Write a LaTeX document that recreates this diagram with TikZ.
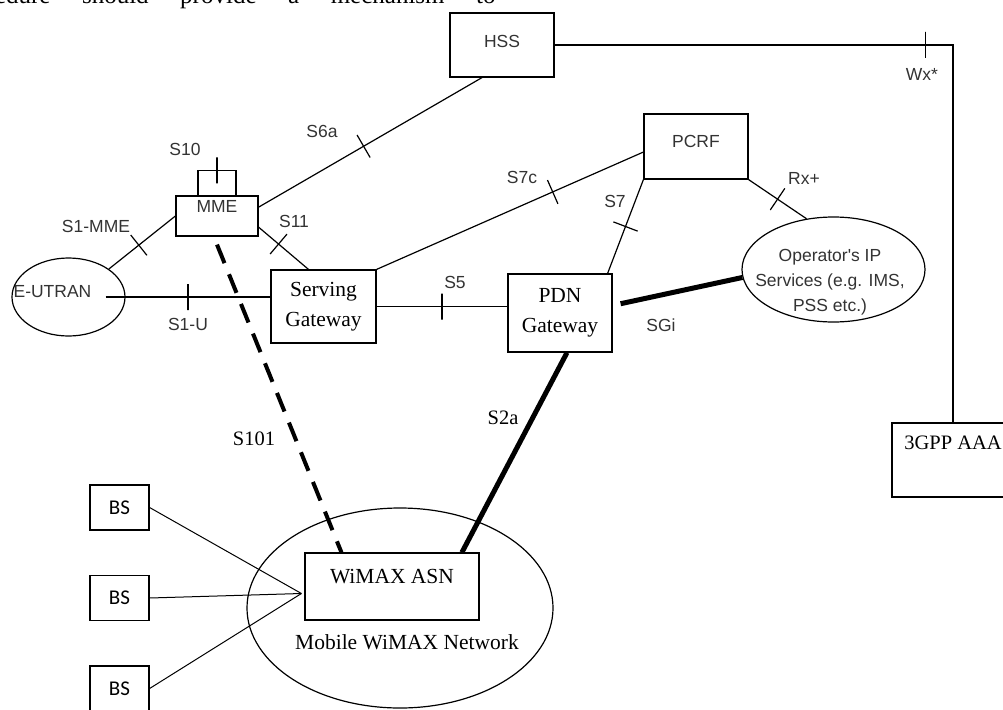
\documentclass[tikz,border=0pt]{standalone}
\usepackage{fontspec}
\setmainfont{Liberation Serif}
\newfontfamily\arialfont{Liberation Sans}
\newfontfamily\califont{Carlito}
\usetikzlibrary{shapes.geometric}

\tikzset{
    box/.style={draw, rectangle, inner sep=0pt},
    blob/.style={draw, ellipse, inner sep=0pt},
    lab/.style={inner sep=0pt, text=black!80, font=\arialfont\fontsize{17.5}{25}\selectfont},
    slab/.style={inner sep=0pt, align=center, font=\fontsize{21.5}{30}\selectfont},
    ifmark/.style={draw, sloped, inner sep=0pt, minimum width=0pt, minimum height=26pt},
    fat/.style={line width=5pt},
    dashline/.style={line width=4pt, dash pattern=on 20pt off 12pt}
}

\begin{document}
\begin{tikzpicture}[x=1pt, y=-1pt, line width=1.2pt]
    \useasboundingbox (0,0) rectangle (1003,709);

    % Cut-off line of text above the figure
    \node[anchor=base west, text width=545pt, inner sep=0pt, font=\fontsize{25}{30}\selectfont] (toptxt) at (-50,4)
        {\noindent procedure\hfill should\hfill provide\hfill a\hfill mechanism\hfill to};

    % Boxes of the core network
    \node[box, lab, minimum width=104pt, minimum height=64pt, text depth=8pt] (hss) at (502,45) {HSS};
    \node[box, lab, minimum width=104pt, minimum height=65pt, text depth=11pt] (pcrf) at (696,146.5) {PCRF};
    \node[box, lab, minimum width=82pt, minimum height=40pt, text depth=20pt] (mme) at (217,216) {MME};
    \node[box, slab, minimum width=105pt, minimum height=73pt] (sgw) at (323.5,306.5) {Serving\\Gateway};
    \node[box, slab, minimum width=104pt, minimum height=78pt] (pgw) at (560,313) {PDN\\Gateway};
    \node[box, slab, font=\fontsize{20.5}{30}\selectfont, minimum width=122pt, minimum height=74pt, text depth=34pt] (aaa) at (953,460) {3GPP AAA};

    % E-UTRAN and operator services
    \node[blob, minimum width=113pt, minimum height=78pt] (eutran) at (68.5,297) {};
    \node[lab] (eutrantxt) at (52.5,291.5) {E-UTRAN};
    \node[blob, minimum width=183pt, minimum height=105pt] (opsrv) at (833.5,269.5) {};
    \node[lab, align=center] (opsrvtxt) at (830,282) {Operator's IP\\Services (e.g. IMS,\\PSS etc.)};

    % WiMAX side
    \node[blob, minimum width=306pt, minimum height=200pt] (mwn) at (400,608) {};
    \node[slab] (mwntxt) at (407,642) {Mobile WiMAX Network};
    \node[box, slab, minimum width=174pt, minimum height=67pt, text depth=21pt] (asn) at (392,586.5) {WiMAX ASN};
    \node[box, font=\califont\fontsize{21}{25}\selectfont, minimum width=59pt, minimum height=45pt] (bs1) at (119.5,507.5) {BS};
    \node[box, font=\califont\fontsize{21}{25}\selectfont, minimum width=59pt, minimum height=45pt] (bs2) at (119.5,598) {BS};
    \node[box, font=\califont\fontsize{21}{25}\selectfont, minimum width=59pt, minimum height=45pt] (bs3) at (119.5,688.5) {BS};
    \coordinate (hub) at ([xshift=-3pt,yshift=-7pt]asn.west);

    % Reference points
    \draw ([xshift=-19pt]mme.north) -- ++(0,-25) -- node[ifmark]{} ++(38,0) -- ([xshift=19pt]mme.north);
    \draw (eutran.north east) -- node[ifmark, pos=.45]{} (mme.west);
    \draw ([xshift=-20pt]eutran.east) -- node[ifmark]{} (eutran.east -| sgw.west);
    \draw (mme.-15) -- node[ifmark, pos=.4]{} (sgw.112);
    \draw (mme.12) -- node[ifmark, pos=.47]{} ([xshift=-20pt]hss.south);
    \draw (sgw.north east) -- node[ifmark, pos=.66]{} (pcrf.186);
    \draw (sgw.east) -- node[ifmark]{} (sgw.east -| pgw.west);
    \draw ([xshift=-5pt]pgw.north east) -- node[ifmark]{} (pcrf.south west);
    \draw (pcrf.south east) -- node[ifmark]{} (opsrv.118);
    \draw (hss.east) -| node[ifmark, pos=.465]{} (aaa.north);
    \draw[fat] ([xshift=8pt]pgw.10) -- (opsrv.185);
    \draw[fat] ([xshift=7pt]pgw.south) -- (asn.26);
    \draw[dashline] ([yshift=-8pt]mme.south) -- (asn.146);
    \draw[line width=1pt] (bs1.east) -- (hub);
    \draw[line width=1pt] (bs2.east) -- (hub);
    \draw[line width=1pt] (bs3.east) -- (hub);

    % Labels
    \node[lab] (s10) at (185,149) {S10};
    \node[lab] (s1mme) at (96,226) {S1-MME};
    \node[lab] (s11) at (294,221) {S11};
    \node[lab] (s6a) at (322,131) {S6a};
    \node[lab] (s1u) at (188,324) {S1-U};
    \node[lab] (s5) at (455,282) {S5};
    \node[lab] (s7c) at (522,177) {S7c};
    \node[lab] (s7) at (615,201) {S7};
    \node[lab] (rx) at (804,178) {Rx+};
    \node[lab] (sgi) at (661,325) {SGi};
    \node[lab] (wx) at (922,74) {Wx*};
    \node[slab, font=\fontsize{20.5}{30}\selectfont] (s101) at (254,439) {S101};
    \node[slab, font=\fontsize{20.5}{30}\selectfont] (s2a) at (503,418) {S2a};
\end{tikzpicture}
\end{document}
